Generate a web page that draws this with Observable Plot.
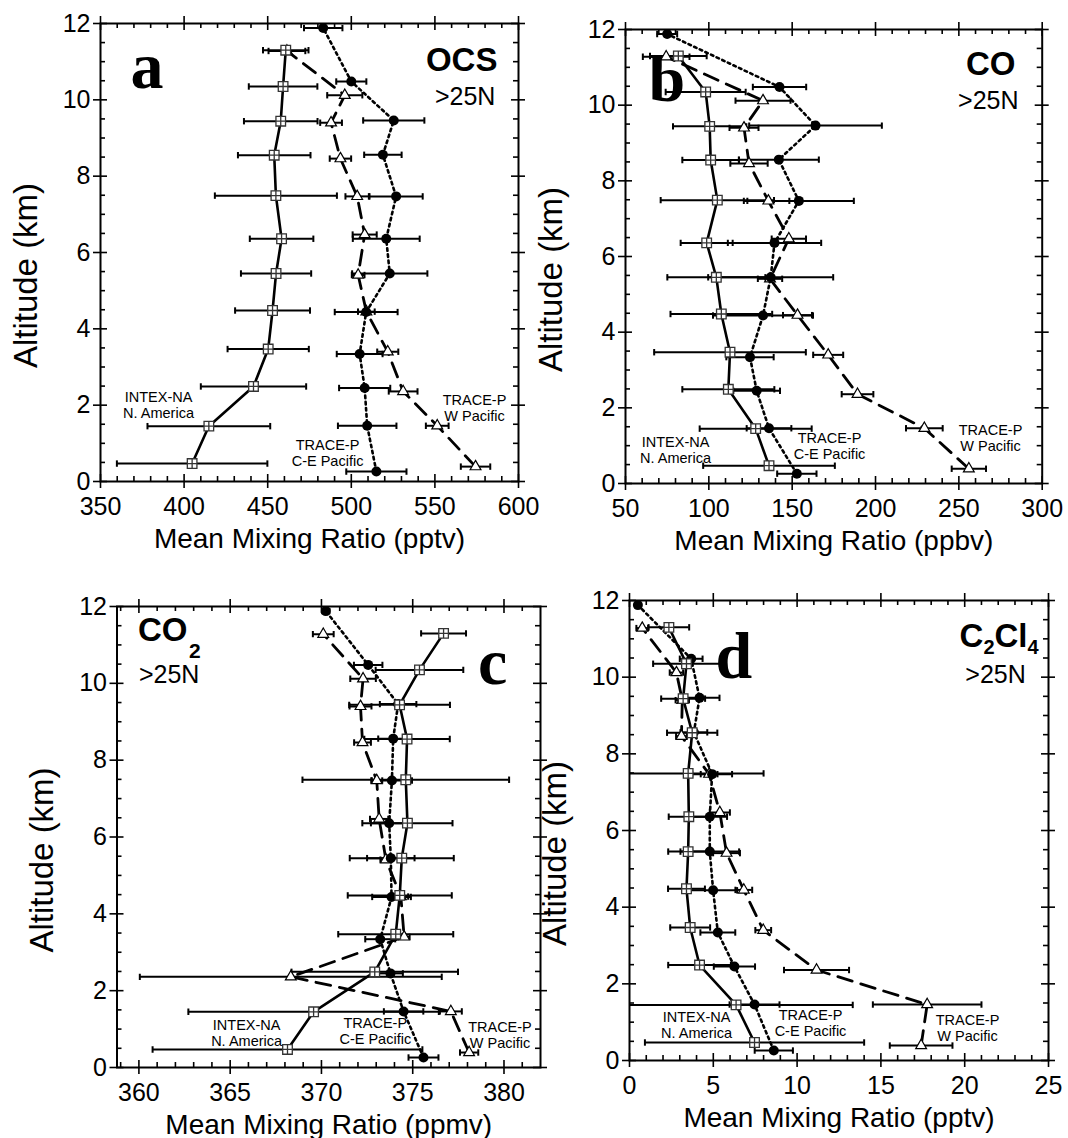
<!DOCTYPE html>
<html><head><meta charset="utf-8">
<script src="https://cdn.jsdelivr.net/npm/d3@7"></script>
<script src="https://cdn.jsdelivr.net/npm/@observablehq/plot@0.6"></script>
<style>
body{margin:0;background:#fff;}
#wrap{position:relative;width:1068px;height:1138px;background:#fff;overflow:hidden;}
#wrap svg{position:absolute;}
</style></head><body><div id="wrap"></div>
<script>
// ---------------- DATA ----------------
// altitude bins (km), bottom to top
const altIntex = [0.47, 1.45, 2.49, 3.47, 4.48, 5.45, 6.36, 7.49, 8.55, 9.44, 10.35, 11.3];
const altCEP   = [0.26, 1.46, 2.45, 3.34, 4.44, 5.45, 6.36, 7.47, 8.56, 9.46, 10.48, 11.88];
const altWP    = [0.39, 1.46, 2.36, 3.40, 4.45, 5.41, 6.47, 7.47, 8.46, 9.40, 10.12, 11.28];

// a) OCS (pptv)
const ocsIntex    = [404.8, 414.8, 441.5, 450.3, 452.9, 455.0, 458.3, 454.9, 453.9, 457.8, 459.2, 460.8];
const ocsIntexErr = [45, 36.7, 31.5, 24.3, 22.4, 21, 19, 36.5, 21.7, 22, 20.5, 13.6];
const ocsCEP      = [515, 509.5, 508, 505, 508.9, 523, 520.9, 526.8, 518.9, 525.4, 500, 483.2];
const ocsCEPErr   = [18, 17.5, 15.3, 13.7, 18.8, 22.5, 20, 15.9, 11.2, 18.3, 9, 11.5];
const ocsWP       = [574.3, 551.4, 531, 521.8, 509, 504.1, 508, 503.5, 493.5, 487.9, 496.1, 461.5];
const ocsWPErr    = [8.8, 6.8, 8.6, 6.3, 5, 3.8, 7.2, 7, 6.4, 6.5, 10.5, 11];

// b) CO (ppbv)
const coIntex    = [136.1, 128.1, 111.7, 112.7, 107.5, 104.5, 98.7, 105.1, 101.1, 100.5, 98.1, 81.7];
const coIntexErr = [39.5, 33.6, 27.6, 45.5, 30.5, 29.4, 15.6, 34, 17, 22, 24, 17];
const coCEP      = [152.8, 136.1, 128.7, 124.7, 132.5, 137.1, 139.4, 154, 142, 164, 142.4, 75];
const coCEPErr   = [11.8, 13.4, 14, 14.2, 30, 37.5, 28, 33, 24, 39.8, 16, 6];
const coWP       = [256, 229.3, 189.2, 171.6, 153.2, 136.7, 148, 135.7, 124.1, 121.1, 132.5, 74.4];
const coWPErr    = [10.3, 11, 9.5, 9, 8.7, 7.3, 10.3, 12.6, 11.2, 8.7, 16.5, 14];

// c) CO2 (ppmv)
const co2Intex    = [368.14, 369.57, 372.92, 374.07, 374.29, 374.4, 374.71, 374.62, 374.69, 374.28, 375.37, 376.69];
const co2IntexErr = [7.39, 6.86, 4.56, 3.15, 2.85, 2.85, 2.47, 5.66, 2.34, 2.76, 2.4, 1.23];
const co2CEP      = [375.59, 374.5, 373.78, 373.22, 373.84, 373.8, 373.71, 373.86, 373.93, 374.2, 372.56, 370.24];
const co2CEPErr   = [0.82, 1.08, 0.68, 0.82, 1.06, 1.3, 1.0, 1.1, 0.82, 1.0, 0.78, 0.2];
const co2WP       = [378.09, 377.09, 368.32, 374.53, 374.35, 373.53, 373.16, 373.03, 372.25, 372.14, 372.28, 370.1];
const co2WPErr    = [0.5, 0.6, 8.27, 0.3, 0.4, 0.3, 0.5, 0.3, 0.46, 0.6, 0.7, 0.57];

// d) C2Cl4 (pptv)
const pceIntex    = [7.46, 6.36, 4.18, 3.62, 3.4, 3.5, 3.54, 3.5, 3.74, 3.2, 3.4, 2.35];
const pceIntexErr = [6.54, 6.96, 1.87, 1.19, 1.1, 1.19, 1.2, 4.5, 1.5, 1.31, 1.99, 1.21];
const pceCEP      = [8.61, 7.46, 6.26, 5.27, 4.99, 4.79, 4.79, 4.93, 3.84, 4.18, 3.68, 0.5];
const pceCEPErr   = [1.14, 1.49, 1.23, 1.04, 1.43, 1.75, 1.03, 1.19, 0.8, 1.19, 0.68, 0.15];
const pceWP       = [17.4, 17.76, 11.16, 7.98, 6.82, 5.79, 5.39, 4.75, 3.1, 3.15, 2.8, 0.76];
const pceWPErr    = [1.87, 3.24, 1.94, 0.47, 0.5, 0.8, 0.6, 0.5, 0.32, 0.4, 0.4, 0.35];

// tick values
const yMajor = [0, 2, 4, 6, 8, 10, 12];
const yMinor = d3.range(0.5, 12, 0.5).filter(v => v % 2 !== 0);
const xTicksA = [350, 400, 450, 500, 550, 600];
const xTicksB = [50, 100, 150, 200, 250, 300];
const xTicksC = [360, 365, 370, 375, 380];
const xTicksD = [0, 5, 10, 15, 20, 25];

// ---------------- RENDER ----------------
const SANS = "'Liberation Sans', Arial, Helvetica, sans-serif";
const SERIF = "'Liberation Serif', 'Times New Roman', serif";

const capSym = {draw(ctx, size){ const h = Math.sqrt(size/Math.PI); ctx.moveTo(0,-h); ctx.lineTo(0,h); }};
const sqSym = {draw(ctx, size){ const h = Math.sqrt(size/Math.PI);
  ctx.moveTo(-h,-h); ctx.lineTo(h,-h); ctx.lineTo(h,h); ctx.lineTo(-h,h); ctx.closePath();
  ctx.moveTo(-h,0); ctx.lineTo(h,0); ctx.moveTo(0,-h); ctx.lineTo(0,h); }};
const triSym = {draw(ctx, size){ const h = Math.sqrt(size/Math.PI); const ht = 2*h*Math.sqrt(3)/2;
  ctx.moveTo(0,-ht*2/3); ctx.lineTo(h,ht/3); ctx.lineTo(-h,ht/3); ctx.closePath(); }};

const rows = (alts, vals, errs) => alts.map((a, i) => ({alt: a, v: vals[i], lo: vals[i] - errs[i], hi: vals[i] + errs[i]}));
const minorOf = (major, step, lo, hi) => d3.range(lo, hi + 1e-9, step).map(v => +v.toFixed(3)).filter(v => !major.includes(v));

function note(n) {
  return Plot.text([n], {x: d => d.x, y: d => d.y, text: d => d.t, fontSize: n.size, fontWeight: n.weight || "normal",
    fontFamily: n.family || SANS, textAnchor: n.anchor || "middle", lineAnchor: "bottom", lineHeight: n.lh || 1.1,
    dx: n.dx || 0, dy: n.dy || 0, fill: "black"});
}

function buildPanel(c) {
  const W = c.width - c.mL - c.mR, H = c.height - c.mT - c.mB;
  const wp = rows(altWP, c.wp, c.wpErr), cep = rows(altCEP, c.cep, c.cepErr), intex = rows(altIntex, c.intex, c.intexErr);
  const caps = s => s.flatMap(r => [{x: r.lo, y: r.alt}, {x: r.hi, y: r.alt}]);
  const tw = 1.6;
  const marks = [
    // ticks: majors both sides, minors inside
    Plot.tickX(c.xMajor, {x: d => d, insetTop: H - 7, insetBottom: -7, strokeWidth: tw}),
    Plot.tickX(c.xMajor, {x: d => d, insetTop: -7, insetBottom: H - 7, strokeWidth: tw}),
    Plot.tickX(c.xMinor, {x: d => d, insetTop: H - 5, insetBottom: 0, strokeWidth: tw}),
    Plot.tickX(c.xMinor, {x: d => d, insetTop: 0, insetBottom: H - 5, strokeWidth: tw}),
    Plot.tickY(yMajor, {y: d => d, insetLeft: -7, insetRight: W - 7, strokeWidth: tw}),
    Plot.tickY(yMajor, {y: d => d, insetLeft: W - 7, insetRight: -7, strokeWidth: tw}),
    Plot.tickY(yMinor, {y: d => d, insetLeft: 0, insetRight: W - 5, strokeWidth: tw}),
    Plot.tickY(yMinor, {y: d => d, insetLeft: W - 5, insetRight: 0, strokeWidth: tw}),
    Plot.axisX({ticks: c.xMajor, tickSize: 0, tickPadding: 16, fontSize: 25, label: null}),
    Plot.axisY({ticks: yMajor, tickSize: 0, tickPadding: 10, fontSize: 25, label: null}),
    Plot.frame({stroke: "black", strokeWidth: 2}),
    // lines
    Plot.line(wp, {x: "v", y: "alt", stroke: "black", strokeWidth: 2.8, strokeDasharray: "15,9"}),
    Plot.line(cep, {x: "v", y: "alt", stroke: "black", strokeWidth: 2.6, strokeDasharray: "2.6,3.6"}),
    Plot.line(intex, {x: "v", y: "alt", stroke: "black", strokeWidth: 2.6}),
  ];
  for (const s of [wp, cep, intex]) {
    marks.push(Plot.ruleY(s, {y: "alt", x1: "lo", x2: "hi", stroke: "black", strokeWidth: 2, clip: true}));
    marks.push(Plot.dot(caps(s), {x: "x", y: "y", symbol: capSym, r: 3.2, stroke: "black", strokeWidth: 2, clip: true}));
  }
  marks.push(Plot.dot(wp, {x: "v", y: "alt", symbol: triSym, r: 5.4, fill: "white", stroke: "black", strokeWidth: 1.2}));
  marks.push(Plot.dot(cep, {x: "v", y: "alt", r: 5, fill: "black", stroke: "none"}));
  marks.push(Plot.dot(intex, {x: "v", y: "alt", symbol: sqSym, r: 4.8, fill: "white", stroke: "#333", strokeWidth: 1.3}));
  // axis titles
  marks.push(Plot.text([c.xLabel], {text: d => d, frameAnchor: "bottom", dy: 66, lineAnchor: "bottom", fontSize: 28, fill: "black"}));
  marks.push(Plot.text(["Altitude (km)"], {text: d => d, frameAnchor: "left", dx: -64, dy: 23, rotate: -90,
    textAnchor: "middle", lineAnchor: "bottom", fontSize: 33, fill: "black"}));
  for (const n of c.notes) marks.push(note(n));

  const svg = Plot.plot({
    width: c.width, height: c.height,
    marginLeft: c.mL, marginRight: c.mR, marginTop: c.mT, marginBottom: c.mB,
    x: {domain: c.xDomain},
    y: {domain: [0, 12]},
    style: {background: "none", overflow: "visible", fontFamily: SANS, color: "black"},
    marks
  });
  svg.style.left = c.left + "px";
  svg.style.top = c.top + "px";
  svg.style.maxWidth = "none";
  document.getElementById("wrap").appendChild(svg);
}

const lbl = 14.5;
buildPanel({
  left: 0, top: 0, width: 540, height: 560, mL: 100, mR: 22, mT: 23, mB: 79,
  xDomain: [350, 600], xMajor: xTicksA, xMinor: minorOf(xTicksA, 10, 350, 600),
  xLabel: "Mean Mixing Ratio (pptv)",
  intex: ocsIntex, intexErr: ocsIntexErr, cep: ocsCEP, cepErr: ocsCEPErr, wp: ocsWP, wpErr: ocsWPErr,
  notes: [
    {t: "a", x: 367.9, y: 10.31, size: 66, weight: "bold", family: SERIF, anchor: "start"},
    {t: "OCS", x: 587.4, y: 10.76, size: 33, weight: "bold", anchor: "end"},
    {t: ">25N", x: 586.2, y: 9.87, size: 25, anchor: "end"},
    {t: "INTEX-NA\nN. America", x: 384.7, y: 1.67, size: lbl},
    {t: "TRACE-P\nC-E Pacific", x: 485.8, y: 0.41, size: lbl},
    {t: "TRACE-P\nW Pacific", x: 573.7, y: 1.59, size: lbl}
  ]
});
buildPanel({
  left: 534, top: 0, width: 534, height: 560, mL: 91, mR: 26.3, mT: 29, mB: 77,
  xDomain: [50, 300], xMajor: xTicksB, xMinor: minorOf(xTicksB, 10, 50, 300),
  xLabel: "Mean Mixing Ratio (ppbv)",
  intex: coIntex, intexErr: coIntexErr, cep: coCEP, cepErr: coCEPErr, wp: coWP, wpErr: coWPErr,
  notes: [
    {t: "b", x: 63.8, y: 10.12, size: 66, weight: "bold", family: SERIF, anchor: "start"},
    {t: "CO", x: 284, y: 10.79, size: 33, weight: "bold", anchor: "end"},
    {t: ">25N", x: 285.8, y: 9.91, size: 25, anchor: "end"},
    {t: "INTEX-NA\nN. America", x: 80, y: 0.555, size: lbl},
    {t: "TRACE-P\nC-E Pacific", x: 172.4, y: 0.66, size: lbl},
    {t: "TRACE-P\nW Pacific", x: 269, y: 0.85, size: lbl}
  ]
});
buildPanel({
  left: 0, top: 560, width: 560, height: 578, mL: 116.5, mR: 20, mT: 46, mB: 71,
  xDomain: [358.8, 382], xMajor: xTicksC, xMinor: minorOf(xTicksC, 1, 359, 381),
  xLabel: "Mean Mixing Ratio (ppmv)",
  intex: co2Intex, intexErr: co2IntexErr, cep: co2CEP, cepErr: co2CEPErr, wp: co2WP, wpErr: co2WPErr,
  notes: [
    {t: "CO", x: 359.95, y: 11.11, size: 33, weight: "bold", anchor: "start"},
    {t: "2", x: 359.95, y: 11.11, size: 21, weight: "bold", anchor: "start", dx: 51, dy: 17},
    {t: ">25N", x: 360, y: 10.02, size: 25, anchor: "start"},
    {t: "c", x: 378.58, y: 9.97, size: 66, weight: "bold", family: SERIF, anchor: "start"},
    {t: "INTEX-NA\nN. America", x: 365.9, y: 0.57, size: lbl},
    {t: "TRACE-P\nC-E Pacific", x: 372.95, y: 0.62, size: lbl},
    {t: "TRACE-P\nW Pacific", x: 379.78, y: 0.52, size: lbl}
  ]
});
buildPanel({
  left: 534, top: 560, width: 534, height: 578, mL: 95, mR: 20, mT: 40, mB: 78,
  xDomain: [0, 25], xMajor: xTicksD, xMinor: minorOf(xTicksD, 1, 0, 25),
  xLabel: "Mean Mixing Ratio (pptv)",
  intex: pceIntex, intexErr: pceIntexErr, cep: pceCEP, cepErr: pceCEPErr, wp: pceWP, wpErr: pceWPErr,
  notes: [
    {t: "d", x: 5.13, y: 9.99, size: 66, weight: "bold", family: SERIF, anchor: "start"},
    {t: "C", x: 19.69, y: 10.8, size: 33, weight: "bold", anchor: "start"},
    {t: "2", x: 19.69, y: 10.8, size: 20, weight: "bold", anchor: "start", dx: 24, dy: 7},
    {t: "Cl", x: 19.69, y: 10.8, size: 33, weight: "bold", anchor: "start", dx: 35},
    {t: "4", x: 19.69, y: 10.8, size: 20, weight: "bold", anchor: "start", dx: 68, dy: 7},
    {t: ">25N", x: 21.84, y: 9.84, size: 25, anchor: "middle"},
    {t: "INTEX-NA\nN. America", x: 4.0, y: 0.6, size: lbl},
    {t: "TRACE-P\nC-E Pacific", x: 10.8, y: 0.65, size: lbl},
    {t: "TRACE-P\nW Pacific", x: 20.17, y: 0.52, size: lbl}
  ]
});
</script></body></html>
